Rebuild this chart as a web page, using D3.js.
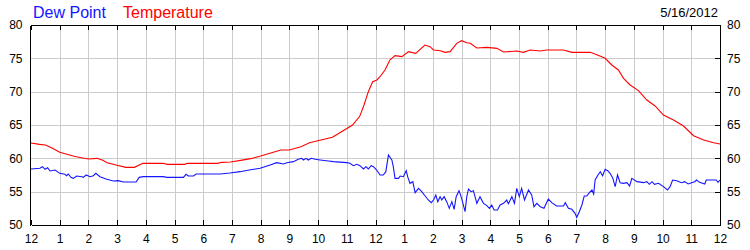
<!DOCTYPE html>
<html>
<head>
<meta charset="utf-8">
<script src="https://cdn.jsdelivr.net/npm/d3@7"></script>
<style>
  html, body { margin: 0; padding: 0; background: #fff; }
  svg { display: block; font-family: "Liberation Sans", Arial, sans-serif; }
</style>
</head>
<body>
<svg id="chart" width="750" height="250"></svg>
<script>
// ---------- DATA ----------
const hourLabels = ["12","1","2","3","4","5","6","7","8","9","10","11","12","1","2","3","4","5","6","7","8","9","10","11","12"];
const yTicks = [50, 55, 60, 65, 70, 75, 80];
const seriesNames = ["Dew Point", "Temperature"];
const dateLabel = "5/16/2012";

const tempHours = [0,0.3,0.5,0.75,1.0,1.25,1.5,1.75,2.0,2.3,2.5,2.65,3.0,3.3,3.6,3.9,4.6,4.75,5.35,5.45,6.5,6.65,6.95,7.3,7.65,8.0,8.35,8.7,9.0,9.4,9.7,10.1,10.5,10.9,11.2,11.45,11.6,11.75,11.9,12.05,12.15,12.33,12.5,12.68,12.92,13.15,13.4,13.72,13.9,14.02,14.25,14.43,14.6,14.83,15.0,15.18,15.3,15.53,15.88,16.23,16.46,16.92,17.15,17.39,17.74,17.97,18.55,18.84,19.48,19.71,20.0,20.23,20.46,20.64,20.87,21.16,21.45,21.74,22.03,22.38,22.73,23.08,23.43,23.78,24.0];
const tempValues = [62.3,62.1,62.0,61.5,60.9,60.6,60.3,60.1,59.9,60.0,59.7,59.35,58.95,58.65,58.65,59.25,59.25,59.1,59.1,59.25,59.25,59.4,59.45,59.7,59.95,60.35,60.8,61.25,61.25,61.75,62.35,62.75,63.15,64.2,65.0,66.3,68.0,70.0,71.5,71.75,72.2,73.25,74.75,75.4,75.25,76.0,75.75,77.0,76.75,76.25,76.15,75.9,76.0,77.25,77.65,77.35,77.25,76.55,76.65,76.5,75.95,76.1,75.9,76.25,76.1,76.25,76.25,75.9,75.9,75.55,75.0,74.0,73.25,72.0,71.0,70.15,68.75,67.85,66.5,65.75,64.85,63.4,62.75,62.35,62.15];

const dewHours = [0,0.31,0.4,0.49,0.58,0.66,0.84,1.0,1.18,1.24,1.3,1.39,1.47,1.59,1.77,1.82,1.92,2.06,2.17,2.26,2.4,2.64,2.87,3.04,3.22,3.66,3.77,3.91,4.61,4.73,5.31,5.4,5.48,5.66,5.75,6.59,6.93,7.28,7.6,7.98,8.33,8.56,8.79,8.91,9.14,9.31,9.43,9.49,9.58,9.66,9.76,9.9,10.07,10.36,10.53,11.0,11.11,11.23,11.35,11.46,11.58,11.67,11.75,11.85,11.93,12.04,12.16,12.27,12.36,12.45,12.57,12.62,12.68,12.8,12.86,12.97,13.07,13.12,13.2,13.3,13.38,13.5,13.61,13.73,13.84,13.94,14.02,14.1,14.17,14.25,14.31,14.39,14.48,14.57,14.66,14.74,14.81,14.91,15.0,15.12,15.18,15.24,15.33,15.41,15.53,15.64,15.76,15.88,15.97,16.05,16.13,16.25,16.34,16.46,16.57,16.63,16.75,16.84,16.92,17.01,17.09,17.19,17.33,17.44,17.52,17.62,17.74,17.87,18.02,18.14,18.31,18.55,18.61,18.72,18.84,18.95,19.01,19.1,19.19,19.27,19.36,19.45,19.54,19.6,19.65,19.75,19.83,19.91,20.0,20.09,20.17,20.26,20.35,20.43,20.52,20.64,20.76,20.85,20.93,21.11,21.34,21.45,21.54,21.63,21.72,21.86,22.03,22.17,22.26,22.35,22.49,22.66,22.77,22.89,23.01,23.12,23.18,23.29,23.47,23.52,23.87,23.93,24.0];
const dewValues = [58.4,58.5,58.75,58.35,58.6,58.1,58.25,57.75,57.6,57.4,57.65,57.15,57.0,57.35,57.25,57.15,57.5,57.25,57.4,57.75,57.25,56.85,56.6,56.65,56.45,56.45,57.15,57.25,57.25,57.15,57.15,57.6,57.35,57.35,57.65,57.65,57.8,58.0,58.25,58.5,59.0,59.35,59.15,59.35,59.5,59.85,60.0,59.75,60.0,59.75,60.0,59.85,59.75,59.6,59.5,59.35,59.25,58.9,59.1,58.9,58.4,58.75,58.4,58.9,58.75,58.25,57.5,57.5,58.0,60.5,59.75,58.75,57.0,57.0,57.35,57.25,58.15,57.25,56.25,56.5,54.85,55.5,55.0,54.35,53.75,53.35,53.75,54.5,53.5,54.25,53.75,54.25,53.5,52.5,53.5,52.35,54.25,55.15,54.0,52.0,54.25,55.4,55.0,55.15,53.25,54.25,53.25,52.9,52.5,53.0,52.25,52.25,53.0,53.25,53.75,53.2,54.25,53.25,55.5,54.25,55.5,53.75,55.25,54.5,52.75,53.25,52.75,52.5,53.9,53.35,52.85,52.85,53.35,52.5,52.35,51.75,51.15,52.0,53.0,54.35,54.35,54.85,55.25,54.65,56.75,57.5,58.0,57.4,58.35,58.15,57.75,57.1,55.75,57.5,56.35,56.25,56.35,55.85,57.0,56.5,56.35,56.5,56.1,56.5,56.1,56.25,55.75,55.25,55.75,56.75,56.65,56.35,56.5,56.15,56.35,56.5,56.75,56.4,56.15,56.75,56.75,56.4,56.75];

// ---------- CHART ----------
const svg = d3.select("#chart");
const plotLeft = 30, plotRight = 720, plotTop = 25, plotBottom = 225;
const x = d3.scaleLinear().domain([0, 24]).range([31, 720]);
const y = d3.scaleLinear().domain([50, 80]).range([plotBottom, plotTop]);
const gridColor = "#cccccc";

// grid
const grid = svg.append("g").attr("shape-rendering", "crispEdges");
grid.selectAll("line.v").data(d3.range(1, 24)).enter().append("line")
  .attr("x1", d => Math.round(x(d)) + 0.5).attr("x2", d => Math.round(x(d)) + 0.5)
  .attr("y1", plotTop).attr("y2", plotBottom)
  .attr("stroke", gridColor).attr("stroke-width", 1);
grid.selectAll("line.h").data(yTicks.slice(1, -1)).enter().append("line")
  .attr("x1", plotLeft).attr("x2", plotRight)
  .attr("y1", d => Math.round(y(d)) + 0.5).attr("y2", d => Math.round(y(d)) + 0.5)
  .attr("stroke", gridColor).attr("stroke-width", 1);

// lines
const lineGen = d3.line().x(d => x(d[0])).y(d => y(d[1]));
const dewData = dewHours.map((h, i) => [h, dewValues[i]]);
const tempData = tempHours.map((h, i) => [h, tempValues[i]]);
svg.append("path").datum(tempData).attr("d", lineGen)
  .attr("fill", "none").attr("stroke", "#ff0000").attr("stroke-width", 1.1);
svg.append("path").datum(dewData).attr("d", lineGen)
  .attr("fill", "none").attr("stroke", "#1515ff").attr("stroke-width", 1.1);

// axes
function styleAxis(g) {
  g.attr("shape-rendering", "crispEdges");
  g.selectAll("path.domain").attr("stroke", "#000");
  g.selectAll(".tick line").attr("stroke", "#000");
  g.selectAll(".tick text").attr("fill", "#000").attr("font-size", "12px")
    .attr("font-family", "'Liberation Sans', Arial, sans-serif");
}
svg.append("g").attr("transform", `translate(0,${plotBottom})`)
  .call(d3.axisBottom(x).tickValues(d3.range(0, 25)).tickFormat(i => hourLabels[i])
    .tickSizeInner(-5).tickSizeOuter(0).tickPadding(9.5))
  .call(styleAxis);
svg.append("g").attr("transform", `translate(0,${plotTop})`)
  .call(d3.axisTop(x).tickValues(d3.range(0, 25)).tickFormat("")
    .tickSizeInner(-5).tickSizeOuter(0))
  .call(styleAxis);
svg.append("g").attr("transform", `translate(${plotLeft},0)`)
  .call(d3.axisLeft(y).tickValues(yTicks).tickFormat(d3.format("d"))
    .tickSizeInner(0).tickSizeOuter(0).tickPadding(7.5))
  .call(styleAxis);
svg.append("g").attr("transform", `translate(${plotRight},0)`)
  .call(d3.axisRight(y).tickValues(yTicks).tickFormat(d3.format("d"))
    .tickSizeInner(-5).tickSizeOuter(0).tickPadding(7))
  .call(styleAxis);

// legend + date
svg.append("text").attr("x", 33).attr("y", 17.5).attr("font-size", "16px")
  .attr("fill", "#1515ff").text(seriesNames[0]);
svg.append("text").attr("x", 123).attr("y", 17.5).attr("font-size", "16px")
  .attr("fill", "#ff0000").text(seriesNames[1]);
svg.append("text").attr("x", 718).attr("y", 17.3).attr("font-size", "13px")
  .attr("text-anchor", "end").attr("fill", "#000").text(dateLabel);
</script>
</body>
</html>
